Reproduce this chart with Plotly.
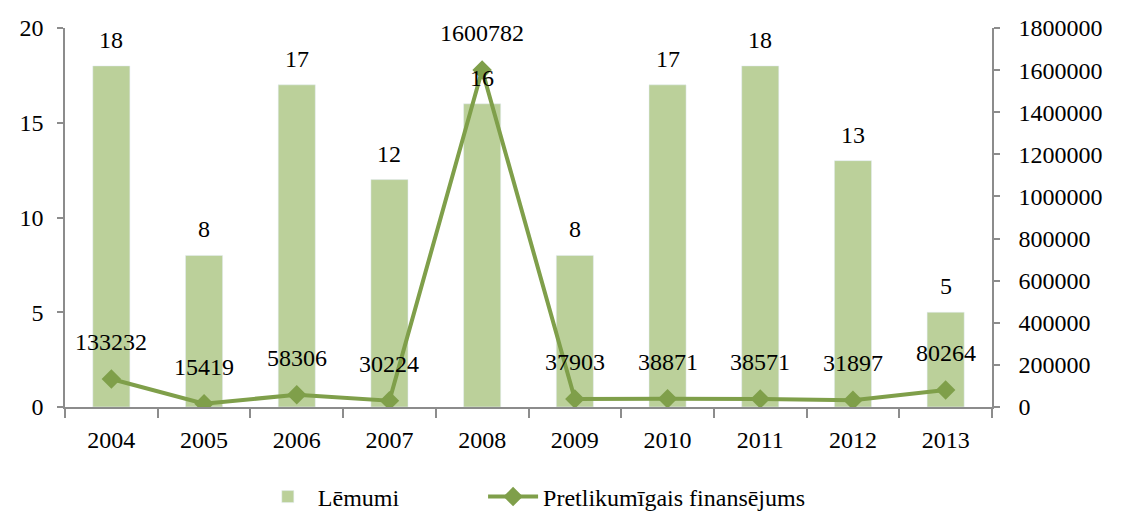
import plotly.graph_objects as go

years = [2004, 2005, 2006, 2007, 2008, 2009, 2010, 2011, 2012, 2013]
lemumi = [18, 8, 17, 12, 16, 8, 17, 18, 13, 5]
finansejums = [133232, 15419, 58306, 30224, 1600782, 37903, 38871, 38571, 31897, 80264]

bar_col = '#BBD09A'
line_col = '#7F9F4A'
axis_col = '#8C8C8C'
serif = 'Times New Roman'
txt = dict(family=serif, size=24, color='black')

fig = go.Figure()
fig.add_trace(go.Bar(x=years, y=lemumi, name='Lēmumi', marker_color=bar_col,
                     width=0.4, legend='legend'))
fig.add_trace(go.Scatter(x=years, y=finansejums, name='Pretlikumīgais finansējums',
                         yaxis='y2', mode='lines+markers', legend='legend2',
                         line=dict(color=line_col, width=4),
                         marker=dict(symbol='diamond', size=15, color=line_col)))

# value labels
for yr, v in zip(years, lemumi):
    fig.add_annotation(x=yr, y=v, xref='x', yref='y', text=str(v),
                       showarrow=False, yshift=26, font=txt)
for yr, v in zip(years, finansejums):
    fig.add_annotation(x=yr, y=v, xref='x', yref='y2', text=str(v),
                       showarrow=False, yshift=37, font=txt)

# the page body has an 8px margin, so the figure is a bit smaller
fig.update_layout(
    width=1118, height=504,
    margin=dict(l=57, r=134, t=20, b=105, autoexpand=False),
    plot_bgcolor='white', paper_bgcolor='white',
    font=txt,
    showlegend=True,
    legend=dict(orientation='h', x=0.208, xanchor='left',
                y=-0.2375, yanchor='middle', itemwidth=50, font=txt),
    legend2=dict(orientation='h', x=0.451, xanchor='left',
                 y=-0.2375, yanchor='middle', itemwidth=50, font=txt),
    xaxis=dict(range=[2003.5, 2013.5], dtick=1, showline=True, linecolor=axis_col, linewidth=1.5,
               ticks='', ticklabelstandoff=10, showgrid=False, zeroline=False,
               minor=dict(ticks='outside', tick0=2003.5, dtick=1, ticklen=9,
                          tickcolor=axis_col, tickwidth=1.5, showgrid=False)),
    yaxis=dict(range=[0, 20], dtick=5, showline=True, linecolor=axis_col, linewidth=1.5,
               ticks='outside', ticklen=6, tickcolor=axis_col, tickwidth=1.5,
               ticklabelstandoff=9, showgrid=False, zeroline=False),
    yaxis2=dict(range=[0, 1800000], dtick=200000, overlaying='y', side='right',
                showline=True, linecolor=axis_col, linewidth=1.5,
                ticks='outside', ticklen=6, tickcolor=axis_col, tickwidth=1.5,
                ticklabelstandoff=14, showgrid=False, zeroline=False, tickformat='d'),
)

fig.write_html('out.html')
